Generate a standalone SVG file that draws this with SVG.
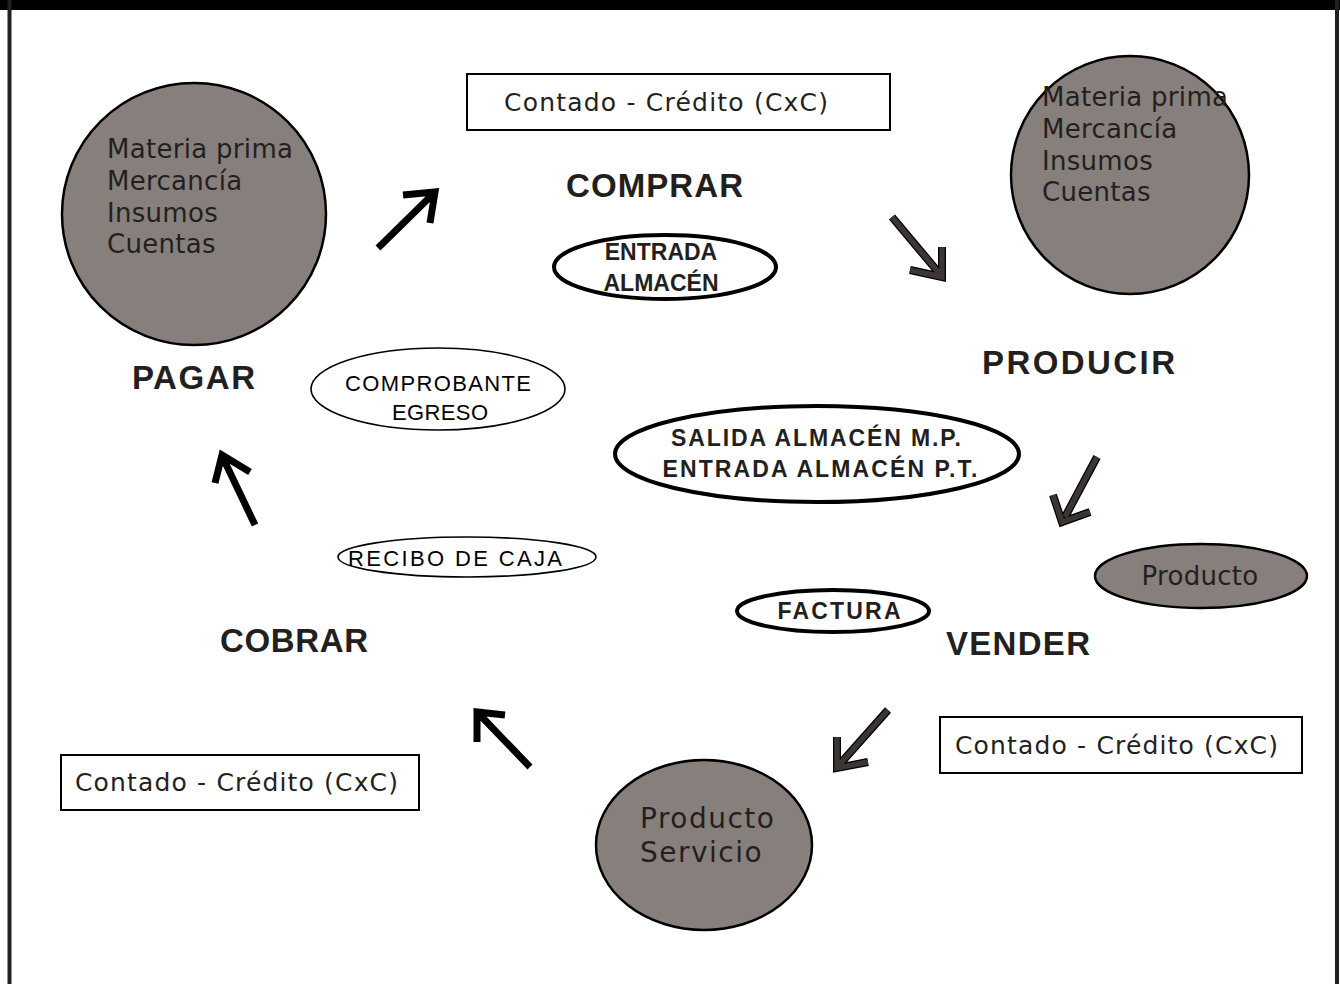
<svg xmlns="http://www.w3.org/2000/svg" width="1340" height="984" viewBox="0 0 1340 984">
  <style>
    .frame { fill: none; stroke: #231f20; stroke-width: 4; }
    .stock { fill: #877f7b; stroke: #000; stroke-width: 2.5; }
    .stock-text { font-family: "DejaVu Sans", "Liberation Sans", sans-serif; font-size: 26px; letter-spacing: 0.3px; fill: #231f20; }
    .stock-text-lg { font-family: "DejaVu Sans", "Liberation Sans", sans-serif; font-size: 28px; letter-spacing: 1.5px; fill: #231f20; }
    .box { fill: #fff; stroke: #000; stroke-width: 2; }
    .box-text { font-family: "DejaVu Sans", "Liberation Sans", sans-serif; font-size: 25px; fill: #231f20; }
    .doc-thin { fill: #fff; stroke: #000; stroke-width: 1.6; }
    .doc-bold { fill: #fff; stroke: #000; stroke-width: 4; }
    .doc-text { font-family: "Liberation Sans", Arial, sans-serif; font-size: 22px; fill: #000; }
    .doc-bold-text { font-family: "Liberation Sans", Arial, sans-serif; font-size: 23px; font-weight: bold; fill: #231f20; }
    .step { font-family: "Liberation Sans", Arial, sans-serif; font-size: 33px; font-weight: bold; fill: #231f20; }
    .arrow-black { fill: none; stroke: #000; stroke-width: 7; stroke-linejoin: miter; }
    .arrow-brown-out { fill: none; stroke: #000; stroke-width: 8; stroke-linejoin: miter; }
    .arrow-brown-in { fill: none; stroke: #3b3533; stroke-width: 5.5; stroke-linejoin: miter; }
  </style>

  <!-- page frame -->
  <rect x="0" y="0" width="1340" height="984" fill="#fff"/>
  <rect x="0" y="0" width="1340" height="10" fill="#000"/>
  <line x1="9.5" y1="0" x2="9.5" y2="984" class="frame"/>
  <line x1="1337" y1="0" x2="1337" y2="984" class="frame"/>

  <!-- cycle steps -->
  <g id="comprar"><text x="566" y="197" class="step" textLength="177" lengthAdjust="spacing">COMPRAR</text></g>
  <g id="producir"><text x="982" y="374" class="step" textLength="193" lengthAdjust="spacing">PRODUCIR</text></g>
  <g id="vender"><text x="946" y="655" class="step" textLength="144" lengthAdjust="spacing">VENDER</text></g>
  <g id="cobrar"><text x="220" y="652" class="step" textLength="148" lengthAdjust="spacing">COBRAR</text></g>
  <g id="pagar"><text x="132" y="389" class="step" textLength="123" lengthAdjust="spacing">PAGAR</text></g>

  <!-- stock circles -->
  <g id="insumos-pagar">
    <ellipse cx="194" cy="214" rx="132" ry="131" class="stock"/>
    <text class="stock-text"><tspan x="107" y="158">Materia prima</tspan><tspan x="107" y="190">Mercancía</tspan><tspan x="107" y="222">Insumos</tspan><tspan x="107" y="253">Cuentas</tspan></text>
  </g>
  <g id="insumos-comprar">
    <ellipse cx="1130" cy="175" rx="119" ry="119" class="stock"/>
    <text class="stock-text"><tspan x="1042" y="106">Materia prima</tspan><tspan x="1042" y="138">Mercancía</tspan><tspan x="1042" y="170">Insumos</tspan><tspan x="1042" y="201">Cuentas</tspan></text>
  </g>
  <g id="producto">
    <ellipse cx="1201" cy="576" rx="106" ry="32" class="stock"/>
    <text x="1200" y="585" class="stock-text" text-anchor="middle">Producto</text>
  </g>
  <g id="producto-servicio">
    <ellipse cx="704" cy="845" rx="108" ry="85" class="stock"/>
    <text class="stock-text-lg"><tspan x="640" y="828">Producto</tspan><tspan x="640" y="862">Servicio</tspan></text>
  </g>

  <!-- payment terms boxes -->
  <g id="terminos-compra">
    <rect x="467" y="74" width="423" height="56" class="box"/>
    <text x="504" y="111" class="box-text" textLength="324" lengthAdjust="spacing">Contado - Crédito (CxC)</text>
  </g>
  <g id="terminos-venta">
    <rect x="940" y="717" width="362" height="56" class="box"/>
    <text x="955" y="754" class="box-text" textLength="323" lengthAdjust="spacing">Contado - Crédito (CxC)</text>
  </g>
  <g id="terminos-cobro">
    <rect x="61" y="755" width="358" height="55" class="box"/>
    <text x="75" y="791" class="box-text" textLength="323" lengthAdjust="spacing">Contado - Crédito (CxC)</text>
  </g>

  <!-- documents -->
  <g id="entrada-almacen">
    <ellipse cx="665" cy="267" rx="111" ry="32" class="doc-bold"/>
    <text class="doc-bold-text" text-anchor="middle"><tspan x="661" y="260">ENTRADA</tspan><tspan x="661" y="291">ALMACÉN</tspan></text>
  </g>
  <g id="salida-entrada-almacen">
    <ellipse cx="817" cy="454" rx="202" ry="48" class="doc-bold"/>
    <text x="816" y="446" class="doc-bold-text" text-anchor="middle" textLength="290" lengthAdjust="spacing">SALIDA ALMACÉN M.P.</text>
    <text x="820" y="477" class="doc-bold-text" text-anchor="middle" textLength="315" lengthAdjust="spacing">ENTRADA ALMACÉN P.T.</text>
  </g>
  <g id="comprobante-egreso">
    <ellipse cx="438" cy="389" rx="127" ry="41" class="doc-thin"/>
    <text x="438" y="391" class="doc-text" text-anchor="middle" textLength="186" lengthAdjust="spacing">COMPROBANTE</text>
    <text x="440" y="420" class="doc-text" text-anchor="middle" textLength="96" lengthAdjust="spacing">EGRESO</text>
  </g>
  <g id="recibo-caja">
    <ellipse cx="467" cy="557" rx="129" ry="20" class="doc-thin"/>
    <text x="455" y="566" class="doc-text" text-anchor="middle" textLength="214" lengthAdjust="spacing">RECIBO DE CAJA</text>
  </g>
  <g id="factura">
    <ellipse cx="833" cy="611" rx="96" ry="21" class="doc-bold"/>
    <text x="839" y="619" class="doc-bold-text" text-anchor="middle" textLength="123" lengthAdjust="spacing">FACTURA</text>
  </g>

  <!-- cycle arrows -->
  <g id="connectors">
    <g id="pagar-comprar">
      <path d="M378,248 L432,195 M403,195 L435,192 L430,223" class="arrow-black"/>
    </g>
    <g id="comprar-producir">
      <path d="M892,217 L939,273 M910,270 L942,277 L942,247" class="arrow-brown-out"/>
      <path d="M892,217 L939,273 M910,270 L942,277 L942,247" class="arrow-brown-in"/>
    </g>
    <g id="producir-vender">
      <path d="M1097,457 L1065,517 M1053,495 L1062,522 L1090,512" class="arrow-brown-out"/>
      <path d="M1097,457 L1065,517 M1053,495 L1062,522 L1090,512" class="arrow-brown-in"/>
    </g>
    <g id="vender-entrega">
      <path d="M888,710 L840,764 M837,737 L837,768 L868,762" class="arrow-brown-out"/>
      <path d="M888,710 L840,764 M837,737 L837,768 L868,762" class="arrow-brown-in"/>
    </g>
    <g id="entrega-cobrar">
      <path d="M530,767 L480,715 M505,715 L477,712 L477,742" class="arrow-black"/>
    </g>
    <g id="cobrar-pagar">
      <path d="M255,525 L224,460 M215,483 L222,455 L250,472" class="arrow-black"/>
    </g>
  </g>
</svg>
